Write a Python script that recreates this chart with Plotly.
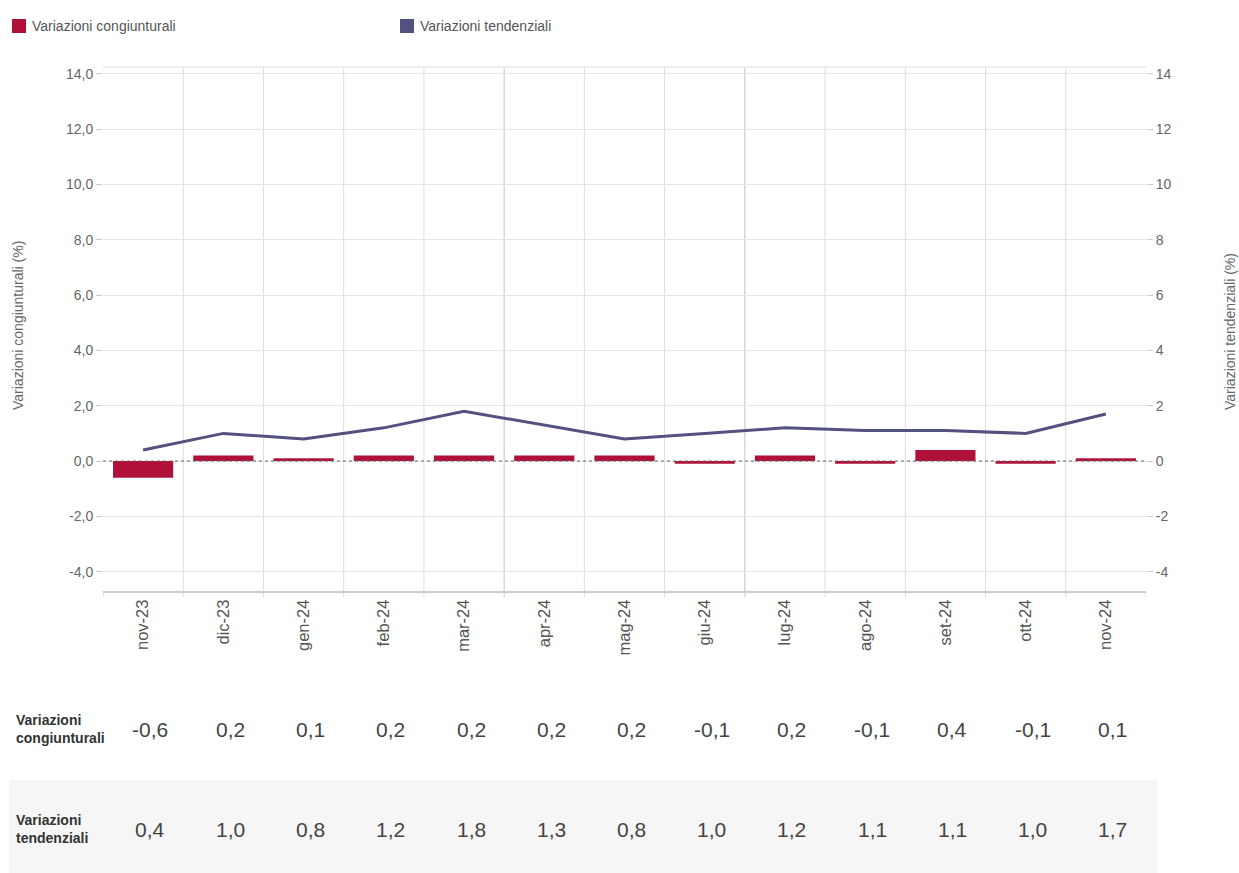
import plotly.graph_objects as go

categories = ["nov-23", "dic-23", "gen-24", "feb-24", "mar-24", "apr-24", "mag-24",
              "giu-24", "lug-24", "ago-24", "set-24", "ott-24", "nov-24"]
congiunturali = [-0.6, 0.2, 0.1, 0.2, 0.2, 0.2, 0.2, -0.1, 0.2, -0.1, 0.4, -0.1, 0.1]
tendenziali = [0.4, 1.0, 0.8, 1.2, 1.8, 1.3, 0.8, 1.0, 1.2, 1.1, 1.1, 1.0, 1.7]
name_cong = "Variazioni congiunturali"
name_tend = "Variazioni tendenziali"
ytitle_left = "Variazioni congiunturali (%)"
ytitle_right = "Variazioni tendenziali (%)"
y_ticks = [-4, -2, 0, 2, 4, 6, 8, 10, 12, 14]

BAR_COLOR = "#B0113B"
LINE_COLOR = "#53517F"
FONT = "Liberation Sans, Arial, sans-serif"

W, H = 1239, 873
L, R, T, B = 103, 93, 67, 282
PW, PH = W - L - R, H - T - B

def px_x(X):
    return (X - L) / PW

def px_y(Y):
    return (H - B - Y) / PH

def fmt(v):
    return f"{v:.1f}".replace(".", ",")

fig = go.Figure()
fig.add_trace(go.Bar(x=categories, y=congiunturali, name=name_cong,
                     marker=dict(color=BAR_COLOR, line=dict(width=0)),
                     width=0.75, yaxis="y", showlegend=False))
fig.add_trace(go.Scatter(x=categories, y=tendenziali, name=name_tend, mode="lines",
                         line=dict(color=LINE_COLOR, width=3), yaxis="y2", showlegend=False))

shapes = []
n = len(categories)
for i in range(1, n):
    b = i - 0.5
    dark = i in (5, 8)
    shapes.append(dict(type="line", xref="x", yref="paper", x0=b, x1=b, y0=-0.012, y1=1,
                       line=dict(color="#c4c4c4" if dark else "#dddddd", width=1), layer="below"))
for b in (-0.5, n - 0.5):
    shapes.append(dict(type="line", xref="x", yref="paper", x0=b, x1=b, y0=-0.012, y1=0,
                       line=dict(color="#cccccc", width=1), layer="below"))
shapes.append(dict(type="line", xref="paper", yref="paper", x0=0, x1=1, y0=1, y1=1,
                   line=dict(color="#eeeeee", width=2), layer="below"))
shapes.append(dict(type="line", xref="paper", yref="y", x0=0, x1=1, y0=0, y1=0,
                   line=dict(color="#666666", width=1, dash="dot"), layer="above"))
shapes.append(dict(type="rect", xref="paper", yref="paper", x0=px_x(9), x1=px_x(1157),
                   y0=px_y(873), y1=px_y(780), fillcolor="#f6f6f6", line=dict(width=0),
                   layer="below"))
shapes.append(dict(type="rect", xref="paper", yref="paper", x0=px_x(12), x1=px_x(26),
                   y0=px_y(33), y1=px_y(19), fillcolor=BAR_COLOR, line=dict(width=0)))
shapes.append(dict(type="rect", xref="paper", yref="paper", x0=px_x(400), x1=px_x(414),
                   y0=px_y(33), y1=px_y(19), fillcolor=LINE_COLOR, line=dict(width=0)))

annotations = [
    dict(text=name_cong, xref="paper", yref="paper", x=px_x(30), y=px_y(26),
         xanchor="left", yanchor="middle", showarrow=False,
         font=dict(family=FONT, size=14, color="#555555")),
    dict(text=name_tend, xref="paper", yref="paper", x=px_x(418), y=px_y(26),
         xanchor="left", yanchor="middle", showarrow=False,
         font=dict(family=FONT, size=14, color="#555555")),
    dict(text=ytitle_left, xref="paper", yref="paper", x=px_x(18), y=px_y(326),
         xanchor="center", yanchor="middle", textangle=-90, showarrow=False,
         font=dict(family=FONT, size=14, color="#666666")),
    dict(text=ytitle_right, xref="paper", yref="paper", x=px_x(1230), y=px_y(332),
         xanchor="center", yanchor="middle", textangle=-90, showarrow=False,
         font=dict(family=FONT, size=14, color="#666666")),
    dict(text="<b>Variazioni<br>congiunturali</b>", xref="paper", yref="paper",
         x=px_x(14), y=px_y(729), xanchor="left", yanchor="middle", align="left",
         showarrow=False, font=dict(family=FONT, size=14, color="#333333")),
    dict(text="<b>Variazioni<br>tendenziali</b>", xref="paper", yref="paper",
         x=px_x(14), y=px_y(829), xanchor="left", yanchor="middle", align="left",
         showarrow=False, font=dict(family=FONT, size=14, color="#333333")),
]

for c, v1, v2 in zip(categories, congiunturali, tendenziali):
    annotations.append(dict(text=fmt(v1), xref="x", yref="paper", x=c, y=px_y(729),
                            xanchor="center", yanchor="middle", showarrow=False, xshift=7,
                            font=dict(family=FONT, size=21, color="#444444")))
    annotations.append(dict(text=fmt(v2), xref="x", yref="paper", x=c, y=px_y(829),
                            xanchor="center", yanchor="middle", showarrow=False, xshift=7,
                            font=dict(family=FONT, size=21, color="#444444")))

yr = [-4.7, 14.25]

fig.update_layout(
    width=W, height=H,
    margin=dict(l=L, r=R, t=T, b=B, autoexpand=False),
    paper_bgcolor="white", plot_bgcolor="white",
    separators=",.",
    font=dict(family=FONT, size=14, color="#666666"),
    showlegend=False,
    xaxis=dict(type="category", showgrid=False, showline=True, linecolor="#cccccc",
               linewidth=2, ticks="", tickangle=-90, zeroline=False, automargin=False,
               tickfont=dict(family=FONT, size=16.5, color="#555555"),
               range=[-0.5, n - 0.5]),
    yaxis=dict(range=yr, tickmode="array", tickvals=y_ticks,
               ticktext=[fmt(v) for v in y_ticks], showgrid=True,
               gridcolor="#e6e6e6", gridwidth=1, zeroline=False, ticks="outside",
               ticklen=6, tickcolor="#cccccc", showline=False, automargin=False,
               tickfont=dict(family=FONT, size=14, color="#666666")),
    yaxis2=dict(range=yr, tickmode="array", tickvals=y_ticks,
                ticktext=[str(v) for v in y_ticks], overlaying="y", side="right",
                showgrid=False, zeroline=False, ticks="outside", ticklen=6,
                tickcolor="#cccccc", showline=False, automargin=False,
                tickfont=dict(family=FONT, size=14, color="#666666")),
    shapes=shapes,
    annotations=annotations,
)

fig.write_html("out.html", config={"displayModeBar": False},
               post_script="document.body.style.margin='0';")
